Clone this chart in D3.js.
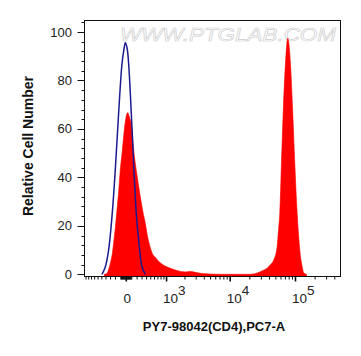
<!DOCTYPE html>
<html>
<head>
<meta charset="utf-8">
<script src="https://cdn.jsdelivr.net/npm/d3@7/dist/d3.min.js"></script>
<style>
  html, body { margin: 0; padding: 0; background: #fff; }
  svg { display: block; }
  text { font-family: "Liberation Sans", Arial, sans-serif; }
</style>
</head>
<body>
<svg id="chart" width="361" height="356"></svg>
<script>
// ---- data (fluorescence intensity, % of max) ----
const controlX = [-497, -417, -342, -271, -205, -141, -78, -45, -18, 13, 42, 91, 134, 185, 244, 300, 371];
const controlY = [0, 3, 10, 23.8, 43, 66.4, 87, 92.5, 95.6, 93.5, 87, 66.4, 45.8, 25, 11.4, 3, 0];

const sampleX = [-440, -378, -342, -306, -264, -238, -205, -172, -141, -110, -73, -49, -18, 24, 55, 104, 128, 166, 205, 264, 316, 371, 417, 489, 543, 623, 712, 879, 1159, 1403, 1689, 2029, 2432, 2911, 3480, 4966, 7073, 14347, 20416, 25860, 31200, 36830, 41356, 46470, 52390, 54860, 57430, 60980, 64760, 70230, 76180, 83790, 90900, 97580, 106200, 113150, 119310, 128040, 134020, 147400];
const sampleY = [0, 0.3, 2, 4.5, 8.5, 12.8, 19, 26.5, 34, 43, 51, 56.8, 63, 66.7, 65, 59.5, 53, 45.8, 40, 32, 26, 21, 16, 11, 8.5, 7, 5.5, 3.8, 2.5, 1.8, 1.2, 1.0, 1.2, 0.8, 0.4, 0.1, 0, 0, 0, 0.5, 1.5, 2.5, 4, 5.9, 11.4, 18, 25, 45.8, 66.4, 87, 97.4, 87, 66.4, 45.8, 25, 14, 7.3, 2.5, 0.5, 0];

const xDomain = [-1063, 489000];
const yDomain = [0, 100];
const yTicks = [0, 20, 40, 60, 80, 100];
const xMajorTicks = [0, 1000, 10000, 100000];
const xMajorLabels = ["0", "10", "10", "10"];
const xMajorExps = ["", "3", "4", "5"];
const xTitle = "PY7-98042(CD4),PC7-A";
const yTitle = "Relative Cell Number";
const watermark = "WWW.PTGLAB.COM";

// ---- layout ----
const L = 84.5, R = 340.5, T = 20.5, B = 276.5;
const W = 514; // arcsinh cofactor
const tr = v => Math.asinh(v / W);
const xs = d3.scaleLinear().domain(xDomain.map(tr)).range([L, R]);
const x = v => xs(tr(v));
const y = d3.scaleLinear().domain(yDomain).range([274.3, 32]);

const svg = d3.select("#chart");

// watermark
svg.append("text")
  .attr("x", 120).attr("y", 40.5)
  .attr("textLength", 216).attr("lengthAdjust", "spacingAndGlyphs")
  .attr("font-size", 18).attr("font-style", "italic")
  .attr("fill", "#ffffff").attr("stroke", "#cdcdcd").attr("stroke-width", 0.6)
  .text(watermark);

const g = svg.append("g");
svg.append("clipPath").attr("id", "clip")
  .append("rect").attr("x", L).attr("y", T).attr("width", R - L).attr("height", B - T);

// sample (red filled)
const sample = sampleX.map((v, i) => [v, sampleY[i]]);
g.append("path")
  .attr("clip-path", "url(#clip)")
  .attr("d", d3.area().x(d => x(d[0])).y0(B - 0.5).y1(d => y(d[1])).curve(d3.curveMonotoneX)(sample))
  .attr("fill", "#ff0000").attr("stroke", "#ff0000").attr("stroke-width", 0.6);

// control (blue line)
const control = controlX.map((v, i) => [v, controlY[i]]);
g.append("path")
  .attr("clip-path", "url(#clip)")
  .attr("d", d3.line().x(d => x(d[0])).y(d => y(d[1])).curve(d3.curveCatmullRom.alpha(0.5))(control))
  .attr("fill", "none").attr("stroke", "#1a1a8e").attr("stroke-width", 1.5);

// frame
svg.append("rect").attr("x", L).attr("y", T).attr("width", R - L).attr("height", B - T)
  .attr("fill", "none").attr("stroke", "#111").attr("stroke-width", 1);

// y axis ticks
const yMinor = d3.range(0, 105, 4);
svg.selectAll(".ymin").data(yMinor).join("line")
  .attr("x1", L - 3).attr("x2", L).attr("y1", d => Math.round(y(d)) + 0.5).attr("y2", d => Math.round(y(d)) + 0.5)
  .attr("stroke", "#111");
svg.selectAll(".ymaj").data(yTicks).join("line")
  .attr("x1", L - 7).attr("x2", L).attr("y1", d => Math.round(y(d)) + 0.5).attr("y2", d => Math.round(y(d)) + 0.5)
  .attr("stroke", "#111");
svg.selectAll(".ylab").data(yTicks).join("text")
  .attr("x", 72).attr("y", d => y(d) + 4.5)
  .attr("text-anchor", "end").attr("font-size", 13).attr("fill", "#222")
  .text(d => d);

// x axis ticks
let xMinor = [];
for (let v = -1000; v <= 1000; v += 100) if (v !== 0) xMinor.push(v);
for (let v = -90; v <= 90; v += 10) if (v !== 0) xMinor.push(v);
[1000, 10000, 100000].forEach(p => { for (let m = 2; m <= 9; m++) xMinor.push(m * p); });
xMinor = xMinor.filter(v => v > xDomain[0] && v < xDomain[1] && v !== 1000);
svg.selectAll(".xmin").data(xMinor).join("line")
  .attr("x1", d => x(d)).attr("x2", d => x(d)).attr("y1", B).attr("y2", B + 3)
  .attr("stroke", "#111").attr("stroke-width", 1);
svg.selectAll(".xmaj").data(xMajorTicks).join("line")
  .attr("x1", d => x(d)).attr("x2", d => x(d)).attr("y1", B).attr("y2", B + 5)
  .attr("stroke", "#111").attr("stroke-width", 1.6);

xMajorTicks.forEach((v, i) => {
  const t = svg.append("text")
    .attr("y", 303).attr("font-size", 13.5).attr("fill", "#222");
  if (xMajorExps[i] === "") {
    t.attr("x", x(v) + 1).attr("text-anchor", "middle").text(xMajorLabels[i]);
  } else {
    t.attr("x", x(v) - 3.5).attr("text-anchor", "start");
    t.append("tspan").text(xMajorLabels[i]);
    t.append("tspan").attr("dy", -8).attr("font-size", 13.5).text(xMajorExps[i]);
  }
});

// titles
svg.append("text").attr("x", 214).attr("y", 331)
  .attr("text-anchor", "middle").attr("font-size", 13).attr("font-weight", "bold").attr("fill", "#111")
  .text(xTitle);
svg.append("text").attr("transform", "translate(32.5,146) rotate(-90)")
  .attr("text-anchor", "middle").attr("font-size", 14).attr("font-weight", "bold").attr("fill", "#111")
  .text(yTitle);
</script>
</body>
</html>
